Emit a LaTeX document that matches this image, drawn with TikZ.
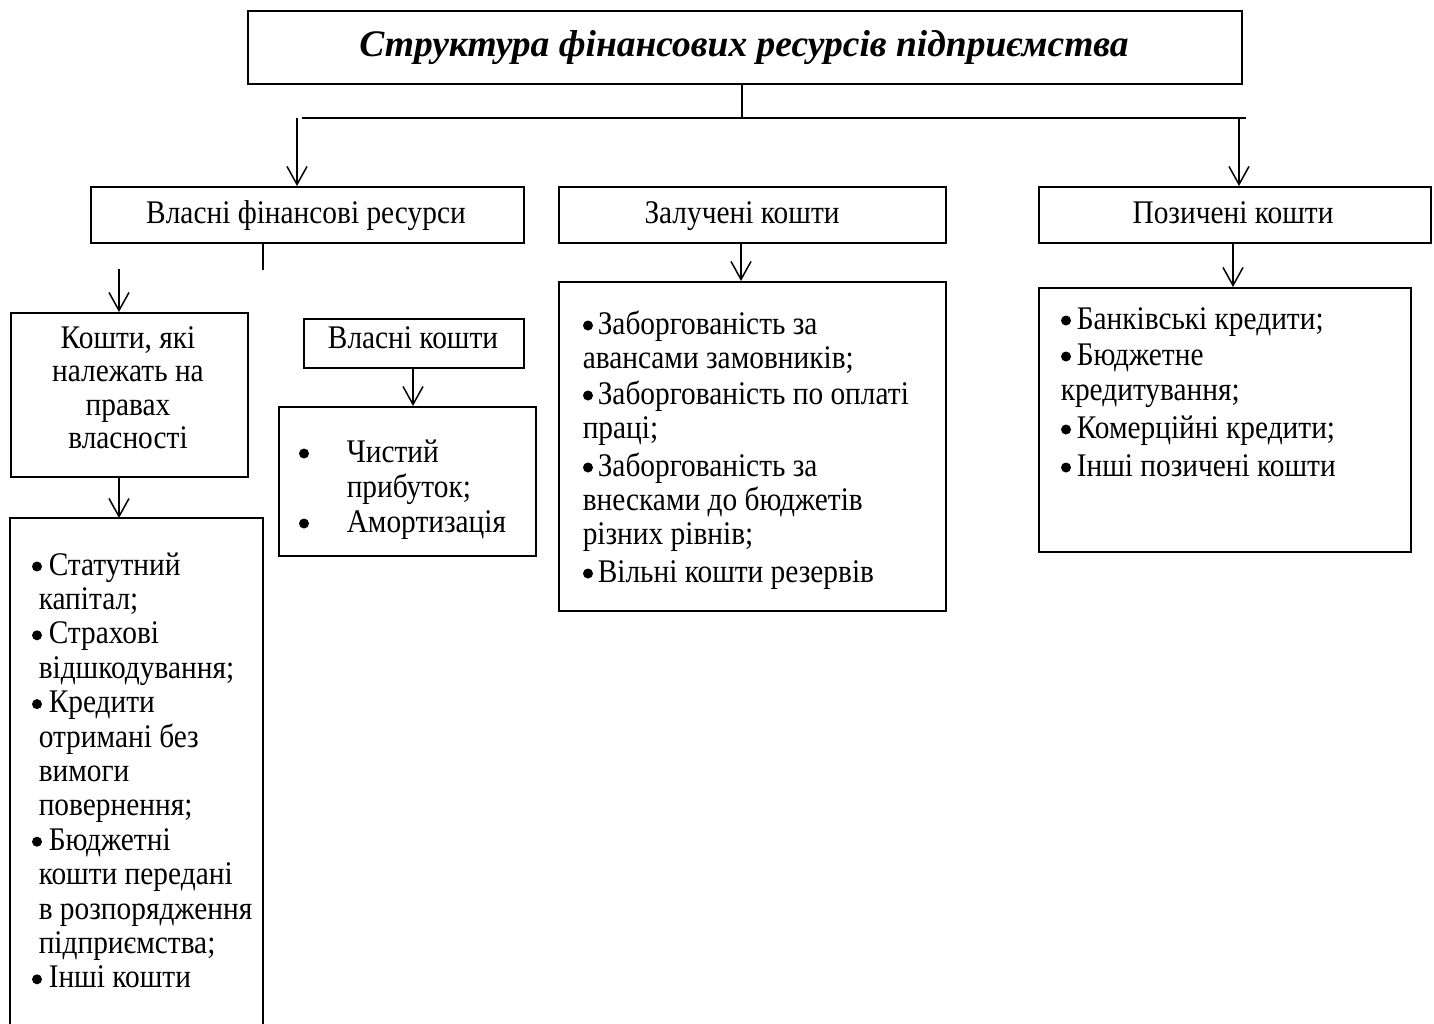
\documentclass[tikz,border=0pt]{standalone}
\usepackage{fontspec}
\setmainfont{Liberation Serif}[FakeStretch=0.89]
\newfontfamily\titlefont{Liberation Serif}
\usetikzlibrary{arrows.meta}
\newcommand\fs{\fontsize{33}{34.4}\selectfont}
\begin{document}
\begin{tikzpicture}[x=1pt,y=-1pt,
  line width=1.5pt,
  box/.style={draw, line width=1.5pt, inner sep=0pt, anchor=north west},
  txt/.style={inner sep=0pt, anchor=base west, font=\fs},
  ctxt/.style={inner sep=0pt, anchor=base, font=\fs},
  dot/.style={fill=black, draw=none},
  arr/.style={-{Straight Barb[length=18pt,width=20pt,line width=1.5pt]}}]
\useasboundingbox (0,0) rectangle (1434,1023);

% boxes
\node[box, minimum width=994pt, minimum height=73pt] (title) at (247,10) {};
\node[box, minimum width=433pt, minimum height=56pt] (own) at (90,186) {};
\node[box, minimum width=387pt, minimum height=56pt] (att) at (558,186) {};
\node[box, minimum width=392pt, minimum height=56pt] (bor) at (1038,186) {};
\node[box, minimum width=387pt, minimum height=329pt] (attl) at (558,281) {};
\node[box, minimum width=372pt, minimum height=264pt] (borl) at (1038,287) {};
\node[box, minimum width=237pt, minimum height=164pt] (prop) at (10,312) {};
\node[box, minimum width=220pt, minimum height=49pt] (ownf) at (303,318) {};
\node[box, minimum width=257pt, minimum height=149pt] (ownfl) at (278,406) {};
\coordinate (propl) at (10,518);
\coordinate (proplr) at (263,518);
\draw (10,1030) -- (propl) -- (proplr) -- (263,1030);

% texts
\node[inner sep=0pt, anchor=base, font=\titlefont\fontsize{37.5}{40}\selectfont\bfseries\itshape] (titletxt) at (744,56) {Структура фінансових ресурсів підприємства};
\node[ctxt] (owntxt) at (306,223) {Власні фінансові ресурси};
\node[ctxt] (atttxt) at (742,223) {Залучені кошти};
\node[ctxt] (bortxt) at (1233,223) {Позичені кошти};
\node[ctxt] (ownftxt) at (413,348) {Власні кошти};
\foreach \t [count=\i] in {{Кошти, які},{належать на},{правах},{власності}}
  \node[ctxt] (pt\i) at (128,{348+(\i-1)*33.6}) {\t};

% list: own funds
\foreach \t [count=\i] in {Чистий,{прибуток;},Амортизація}
  \node[txt] (vk\i) at (346,{462+(\i-1)*35}) {\t};
\foreach \i in {1,3}
  \fill[dot] (304,{462+(\i-1)*35-8.5}) circle (5pt);

% list: property funds
\foreach \t/\xx [count=\i] in {Статутний/48,{капітал;}/38,Страхові/48,{відшкодування;}/38,Кредити/48,{отримані без}/38,вимоги/38,{повернення;}/38,Бюджетні/48,{кошти передані}/38,{в розпорядження}/38,{підприємства;}/38,{Інші кошти}/48}
  \node[txt] (pl\i) at (\xx,{575+(\i-1)*34.4}) {\t};
\foreach \i in {1,3,5,9,13}
  \fill[dot] (37,{575+(\i-1)*34.4-8.5}) circle (5pt);

% list: attracted funds
\foreach \t/\xx/\yy [count=\i] in {{Заборгованість за}/597/334,{авансами замовників;}/582/368,{Заборгованість по оплаті}/597/404,{праці;}/582/438,{Заборгованість за}/597/476,{внесками до бюджетів}/582/510,{різних рівнів;}/582/544,{Вільні кошти резервів}/597/582}
  \node[txt] (al\i) at (\xx,\yy) {\t};
\foreach \yy in {334,404,476,582}
  \fill[dot] (588,\yy-8.5) circle (5pt);

% list: borrowed funds
\foreach \t/\xx/\yy [count=\i] in {{Банківські кредити;}/1076/329,Бюджетне/1076/365,{кредитування;}/1060/400,{Комерційні кредити;}/1076/438,{Інші позичені кошти}/1076/476}
  \node[txt] (bl\i) at (\xx,\yy) {\t};
\foreach \yy in {329,365,438,476}
  \fill[dot] (1066,\yy-8.5) circle (5pt);

% connectors
\coordinate (hl) at (302,118);
\coordinate (hr) at (1246,118);
\coordinate (hm) at (742,118);
\coordinate (al) at (297,118);
\coordinate (ar) at (1239,118);
\draw (title.south -| hm) -- (hm);
\draw (hl) -- (hr);
\draw[arr] (al) -- (al |- own.north);
\draw[arr] (ar) -- (ar |- bor.north);
\coordinate (stub) at (263,270);
\draw (stub |- own.south) -- (stub);
\coordinate (pa) at (119,269);
\draw[arr] (pa) -- (pa |- prop.north);
\draw[arr] (pa |- prop.south) -- (pa |- propl);
\coordinate (va) at (413,0);
\draw[arr] (va |- ownf.south) -- (va |- ownfl.north);
\coordinate (za) at (741,0);
\draw[arr] (za |- att.south) -- (za |- attl.north);
\coordinate (ba) at (1233,0);
\draw[arr] (ba |- bor.south) -- (ba |- borl.north);
\end{tikzpicture}
\end{document}
